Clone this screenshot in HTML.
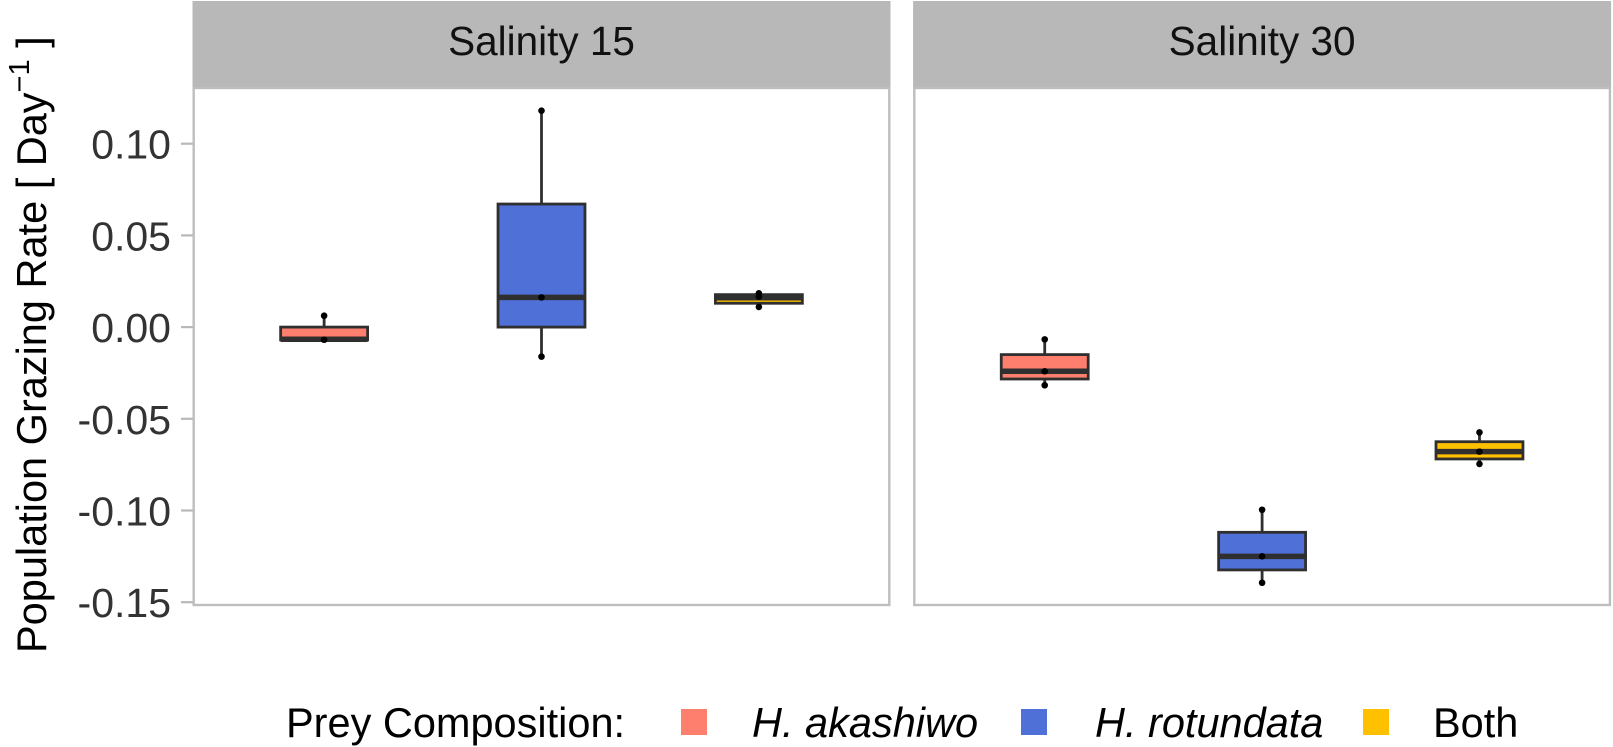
<!DOCTYPE html>
<html lang="en">
<head>
<meta charset="utf-8">
<title>Population Grazing Rate by Salinity</title>
<style>
html,body{margin:0;padding:0;background:#fff;width:1613px;height:747px;overflow:hidden}
svg{display:block;font-family:"Liberation Sans",Arial,sans-serif}
</style>
</head>
<body>
<svg id="chart" xmlns="http://www.w3.org/2000/svg" width="1613" height="747" viewBox="0 0 1613 747">
  <text transform="translate(46,653) rotate(-90)" font-size="41.5" fill="#000">Population Grazing Rate [ Day<tspan dy="-17" font-size="29">−1</tspan><tspan dy="17"> ]</tspan></text>
  <g>
    <text x="286" y="737" font-size="41.5" fill="#000">Prey Composition:</text>
    <rect x="681" y="709" width="26" height="26" fill="#ff7f6e"/>
    <text x="752" y="737" font-size="41.5" font-style="italic" fill="#000">H. akashiwo</text>
    <rect x="1021" y="709" width="26" height="26" fill="#4f70d6"/>
    <text x="1095" y="737" font-size="41.5" font-style="italic" fill="#000">H. rotundata</text>
    <rect x="1363" y="709" width="26" height="26" fill="#ffc000"/>
    <text x="1433" y="737" font-size="41.5" fill="#000">Both</text>
  </g>
</svg>
<script>
const panelNames = ["Salinity 15", "Salinity 30"];
const categories = ["H. akashiwo", "H. rotundata", "Both"];
const colors = ["#ff7f6e", "#4f70d6", "#ffc000"];
const yTicks = [0.10, 0.05, 0.00, -0.05, -0.10, -0.15];
const yTickLabels = ["0.10", "0.05", "0.00", "-0.05", "-0.10", "-0.15"];

const q1Salinity15 = [-0.0070, 0.0000, 0.0130];
const medianSalinity15 = [-0.0066, 0.0162, 0.0160];
const q3Salinity15 = [0.0000, 0.0671, 0.0177];
const pointsSalinity15 = [
  [0.0062, -0.0069],
  [0.1180, 0.0162, -0.0161],
  [0.0184, 0.0166, 0.0110]
];

const q1Salinity30 = [-0.0283, -0.1324, -0.0719];
const medianSalinity30 = [-0.0241, -0.1250, -0.0679];
const q3Salinity30 = [-0.0150, -0.1119, -0.0625];
const pointsSalinity30 = [
  [-0.0067, -0.0241, -0.0317],
  [-0.0996, -0.1250, -0.1394],
  [-0.0574, -0.0679, -0.0746]
];

const q1Series = [q1Salinity15, q1Salinity30];
const medianSeries = [medianSalinity15, medianSalinity30];
const q3Series = [q3Salinity15, q3Salinity30];
const pointSeries = [pointsSalinity15, pointsSalinity30];

const svg = document.getElementById('chart');
const NS = 'http://www.w3.org/2000/svg';
const panelLeft = [193.7, 914.3];
const panelWidth = 695.6;
const stripBottom = 88;
const panelBottom = 605;
const yZero = 327.1;
const yPerUnit = 1834;
const borderColor = '#bebebe';
const inkColor = '#2f2f2f';

function yScale(v) { return yZero - v * yPerUnit; }
function xScale(panel, i) { return panelLeft[panel] + (i + 1 - 0.4) / 3.2 * panelWidth; }
function bandWidth() { return 0.4 / 3.2 * panelWidth; }

function make(tag, attrs, parent) {
  const el = document.createElementNS(NS, tag);
  for (const k in attrs) el.setAttribute(k, attrs[k]);
  parent.appendChild(el);
  return el;
}

const axis = make('g', {}, svg);


yTicks.forEach(function (t, i) {
  const tick = make('line', { x1: 181, x2: 193.7, y1: yScale(t), y2: yScale(t), stroke: '#b8b8b8', 'stroke-width': 2.2 }, axis);
  
  
  const label = make('text', { x: 171, y: yScale(t) + 15, 'font-size': 41, 'text-anchor': 'end', fill: '#333333' }, axis);
  
  
  label.textContent = yTickLabels[i];
});

panelNames.forEach(function (name, p) {
  const g = make('g', {}, svg);
  
  

  const strip = make('rect', { x: panelLeft[p] - 1.2, y: 1, width: panelWidth + 2.4, height: stripBottom - 1, fill: '#b8b8b8' }, g);
  
  

  const stripLabel = make('text', { x: panelLeft[p] + panelWidth / 2, y: 55, 'font-size': 40.5, 'text-anchor': 'middle', fill: '#111111' }, g);
  
  
  stripLabel.textContent = name;

  const border = make('rect', { x: panelLeft[p], y: stripBottom, width: panelWidth, height: panelBottom - stripBottom, fill: 'none', stroke: borderColor, 'stroke-width': 2.4 }, g);
  
  

  categories.forEach(function (cat, i) {
    const cx = xScale(p, i);
    const w = bandWidth();
    const pts = pointSeries[p][i];
    const top = yScale(q3Series[p][i]);
    const bottom = yScale(q1Series[p][i]);
    const box = make('g', {}, g);
    
    

    const whisker = make('line', { x1: cx, x2: cx, y1: yScale(Math.max.apply(null, pts)), y2: yScale(Math.min.apply(null, pts)), stroke: inkColor, 'stroke-width': 2.8 }, box);
    
    

    const rect = make('rect', { x: cx - w / 2, y: top, width: w, height: bottom - top, fill: colors[i], stroke: inkColor, 'stroke-width': 2.8 }, box);
    
    

    const med = make('line', { x1: cx - w / 2, x2: cx + w / 2, y1: yScale(medianSeries[p][i]), y2: yScale(medianSeries[p][i]), stroke: inkColor, 'stroke-width': 5.5 }, box);
    
    

    pts.forEach(function (v) {
      const dot = make('circle', { cx: cx, cy: yScale(v), r: 3.3, fill: '#000' }, box);
      
      
    });
  });
});
</script>
</body>
</html>
